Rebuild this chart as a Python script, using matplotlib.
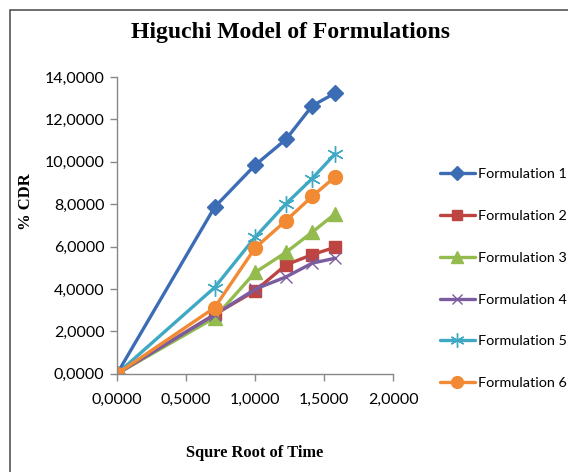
import matplotlib
matplotlib.use("Agg")
import matplotlib.pyplot as plt
import matplotlib.ticker as mticker
from matplotlib.patches import Rectangle

# square root of time
sqrt_time = [0.0, 0.7071, 1.0, 1.2247, 1.4142, 1.5811]

# % CDR per formulation
f1 = [0.0, 7.86, 9.84, 11.06, 12.64, 13.24]
f2 = [0.0, 2.80, 3.91, 5.14, 5.62, 5.97]
f3 = [0.0, 2.64, 4.78, 5.73, 6.68, 7.55]
f4 = [0.0, 2.78, 3.99, 4.57, 5.22, 5.45]
f5 = [0.0, 4.07, 6.44, 8.02, 9.21, 10.38]
f6 = [0.0, 3.12, 5.93, 7.23, 8.37, 9.29]

labels = ["Formulation 1", "Formulation 2", "Formulation 3",
          "Formulation 4", "Formulation 5", "Formulation 6"]
series = [f1, f2, f3, f4, f5, f6]

styles = [
    dict(color="#3c6db4", marker="D", ms=8, mew=1),
    dict(color="#bd4441", marker="s", ms=9, mew=1),
    dict(color="#93bb4d", marker="^", ms=10, mew=1),
    dict(color="#7b5c9f", marker="x", ms=9, mew=1.0),
    dict(color="#3fa9c4", marker=(6, 2, 0), ms=12, mew=1.0),
    dict(color="#f28a34", marker="o", ms=10, mew=1),
]

plt.rcParams["font.family"] = ["Lato", "DejaVu Sans"]

fig = plt.figure(figsize=(5.68, 4.72), dpi=100)
# outer chart frame (only left/top edges fall inside the picture)
fig.patches.append(Rectangle((10 / 568, -0.1), 1.2, (472 - 10) / 472 + 0.1,
                             transform=fig.transFigure, fill=False,
                             edgecolor="#555555", linewidth=1.2))

ax = fig.add_axes([0.206, 0.208, 0.486, 0.629])

for ys, lab, st in zip(series, labels, styles):
    ax.plot(sqrt_time, ys, "-", lw=2.4, color=st["color"], marker=st["marker"],
            ms=st["ms"], mew=st["mew"], mec=st["color"], mfc=st["color"],
            label=lab, solid_capstyle="round", solid_joinstyle="round")

ax.set_xlim(0, 2.0)
ax.set_ylim(0, 14)
ax.set_xticks([0, 0.5, 1.0, 1.5, 2.0])
ax.set_yticks(range(0, 15, 2))
fmt = mticker.FuncFormatter(lambda v, _: f"{v:.4f}".replace(".", ","))
ax.xaxis.set_major_formatter(fmt)
ax.yaxis.set_major_formatter(fmt)
ax.tick_params(axis="both", labelsize=11.5, color="#888888", length=5,
               direction="out", width=1)
ax.tick_params(axis="x", pad=9)
ax.tick_params(axis="y", pad=4)
for s in ("top", "right"):
    ax.spines[s].set_visible(False)
for s in ("left", "bottom"):
    ax.spines[s].set_color("#888888")
    ax.spines[s].set_linewidth(1)

fig.text(0.512, 0.932, "Higuchi Model of Formulations", ha="center", va="center",
         family="Liberation Serif", fontweight="bold", fontsize=17)
fig.text(0.045, 0.572, "% CDR", ha="center", va="center", rotation=90,
         family="Liberation Serif", fontweight="bold", fontsize=12)
fig.text(0.449, 0.040, "Squre Root of Time", ha="center", va="center",
         family="Liberation Serif", fontweight="bold", fontsize=11.8)

leg = ax.legend(loc="upper left", bbox_to_anchor=(1.149, 0.713), frameon=False,
                prop=dict(size=10.4), handlelength=2.4,
                handletextpad=0.2, labelspacing=2.06, borderaxespad=0,
                markerscale=0.85)

fig.savefig("out.png", dpi=100)
